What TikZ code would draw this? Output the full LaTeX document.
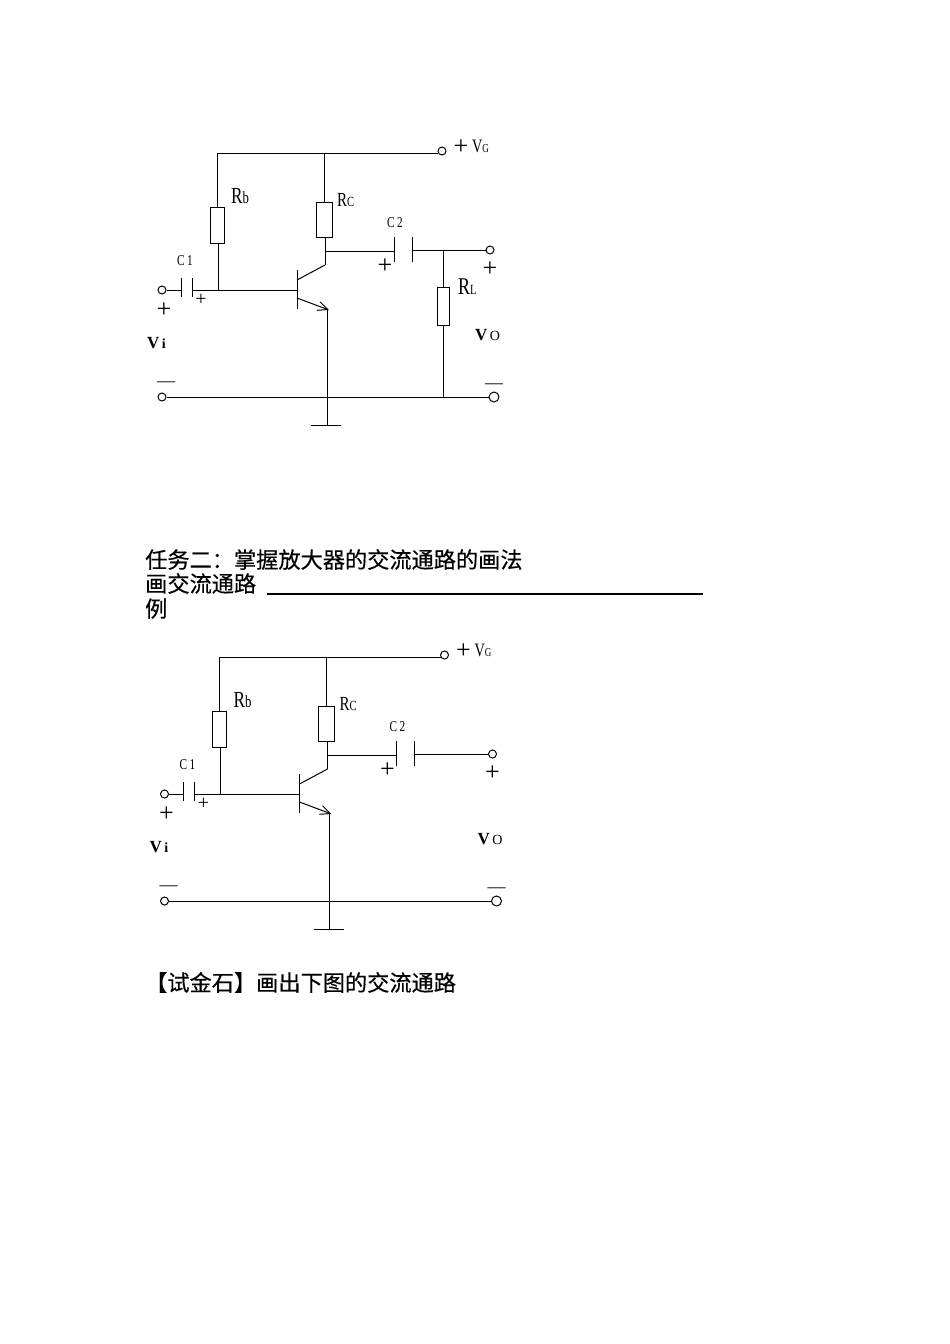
\documentclass[tikz,border=0pt]{standalone}
\usepackage{fontspec}
\usetikzlibrary{arrows.meta}
\setmainfont{Liberation Serif}
\newfontfamily\lblfont[FakeStretch=0.75]{Liberation Serif}
\newfontfamily\cjkfont[FakeBold=0.4]{Noto Sans CJK SC}
\newcommand{\lblsize}[1]{\fontsize{#1}{#1}\selectfont}
\tikzset{
	wire/.style={line width=1pt},
	res/.style={draw, line width=1pt, rectangle, inner sep=0pt},
	port/.style={draw, line width=1pt, circle, minimum size=8pt, inner sep=0pt},
	lbl/.style={inner sep=0pt, anchor=base west, font=\lblfont},
	boldlbl/.style={inner sep=0pt, anchor=base west, font=\bfseries},
	sign/.style={inner sep=0pt, anchor=center},
	cjk/.style={inner sep=0pt, anchor=base west, font=\cjkfont\lblsize{22.2}},
}
% parts shared by both amplifiers
\newcommand{\ampcircuit}{
	\node[port] (vin) at (162,290) {};
	\node[port] (gndin) at (162,397) {};
	\node[port] (vcc) at (442,151) {};
	\node[port] (vout) at (490,250) {};
	\node[port, minimum size=10pt] (gndout) at (494,397) {};
	\node[res, minimum width=14pt, minimum height=36pt] (Rb) at (217,225) {};
	\node[res, minimum width=16pt, minimum height=35pt] (Rc) at (324,219.5) {};

	\coordinate (railL) at (217,153);
	\coordinate (railM) at (324,153);
	\coordinate (railR) at (438,153);
	\coordinate (baseJ) at (218,290);
	\coordinate (c1a) at (181,290);
	\coordinate (c1b) at (192,290);
	\coordinate (barB) at (297,290);
	\coordinate (barT) at (297,270);
	\coordinate (barE) at (297,309);
	\coordinate (colB) at (297,280);
	\coordinate (colT) at (325,265);
	\coordinate (colJ) at (325,251);
	\coordinate (c2a) at (394,251);
	\coordinate (c2b) at (412,250);
	\coordinate (emiB) at (297,298);
	\coordinate (emiT) at (329,310);
	\coordinate (emiL) at (327,310);
	\coordinate (gnd) at (327,425);
	\coordinate (gndA) at (311,425);
	\coordinate (gndC) at (341,425);

	\draw[wire] (railL) -- (railR);
	\draw[wire] (railL) -- (Rb.north -| railL);
	\draw[wire] (railM) -- (Rc.north);
	\draw[wire] (Rb.south -| baseJ) -- (baseJ);
	\draw[wire] (vin) -- (c1a);
	\draw[wire] (c1b) -- (barB);
	\draw[wire] ([yshift=-7pt]c1a) -- ([yshift=12pt]c1a);
	\draw[wire] ([yshift=-7pt]c1b) -- ([yshift=12pt]c1b);
	\draw[wire] (barT) -- (barE);
	\draw[wire] (colB) -- (colT);
	\draw[wire] (Rc.south -| colT) -- (colT);
	\draw[wire] (colJ) -- (c2a);
	\draw[wire] ([yshift=-11pt]c2a) -- ([yshift=14pt]c2a);
	\draw[wire] ([yshift=-12pt]c2b) -- ([yshift=13pt]c2b);
	\draw[wire] (c2b) -- (vout);
	\draw[wire, -{Straight Barb[length=10pt, width=9pt]}] (emiB) -- (emiT);
	\draw[wire] (emiL) -- (gnd);
	\draw[wire] (gndin) -- (gndout);
	\draw[wire] (gndA) -- (gndC);

	\node[lbl] (lblRb) at (231,203) {\lblsize{23}R\lblsize{17}b};
	\node[lbl] (lblRc) at (337,206) {\lblsize{20}R\lblsize{14}C};
	\node[lbl] (lblC1) at (177,265) {\lblsize{15}C\,1};
	\node[lbl] (lblC2) at (387,227) {\lblsize{15}C\,2};
	\node[lbl] (lblV) at (472,152) {\lblsize{19}V\lblsize{12}G};
	\node[boldlbl] (lblVi) at (147,348) {\lblsize{17}V\lblsize{14}\,i};
	\node[boldlbl] (lblVo) at (475,340) {\lblsize{17}V\mdseries\lblsize{14}\,O};
	\node[sign, font=\lblsize{26}] (plusV) at (461,147) {+};
	\node[sign, font=\lblsize{26}] (plusI) at (164,310) {+};
	\node[sign, font=\lblsize{20}] (plusC) at (201,300) {+};
	\node[sign, font=\lblsize{26}] (plusCc) at (385,266) {+};
	\node[sign, font=\lblsize{26}] (plusO) at (490,269) {+};
	\node[sign, font=\lblsize{18}] (minusI) at (166,384) {---};
	\node[sign, font=\lblsize{18}] (minusO) at (494,386) {---};
}

\begin{document}
\begin{tikzpicture}[x=1pt, y=-1pt]
	\useasboundingbox[fill=white] (0,0) rectangle (950,1344);

	\begin{scope}[name prefix=top-]
		\ampcircuit
		\node[res, minimum width=12pt, minimum height=38pt] (RL) at (443,306) {};
		\coordinate (loadT) at (443,250);
		\coordinate (loadB) at (443,397);
		\draw[wire] (loadT) -- (RL.north);
		\draw[wire] (RL.south) -- (loadB);
		\node[lbl] (lblRL) at (458,294) {\lblsize{24}R\lblsize{14}L};
	\end{scope}

	\node[cjk] (task) at (145,568) {任务二：掌握放大器的交流通路的画法};
	\node[cjk] (drawing) at (145,592) {画交流通路};
	\node[cjk] (eg) at (145,617) {例};
	\coordinate (blankA) at (267,594);
	\coordinate (blankB) at (703,594);
	\draw[line width=1.3pt] (blankA) -- (blankB);

	\begin{scope}[shift={(2.5,504)}, name prefix=low-]
		\ampcircuit
	\end{scope}

	\node[cjk] (test) at (145,991) {【试金石】画出下图的交流通路};
\end{tikzpicture}
\end{document}
